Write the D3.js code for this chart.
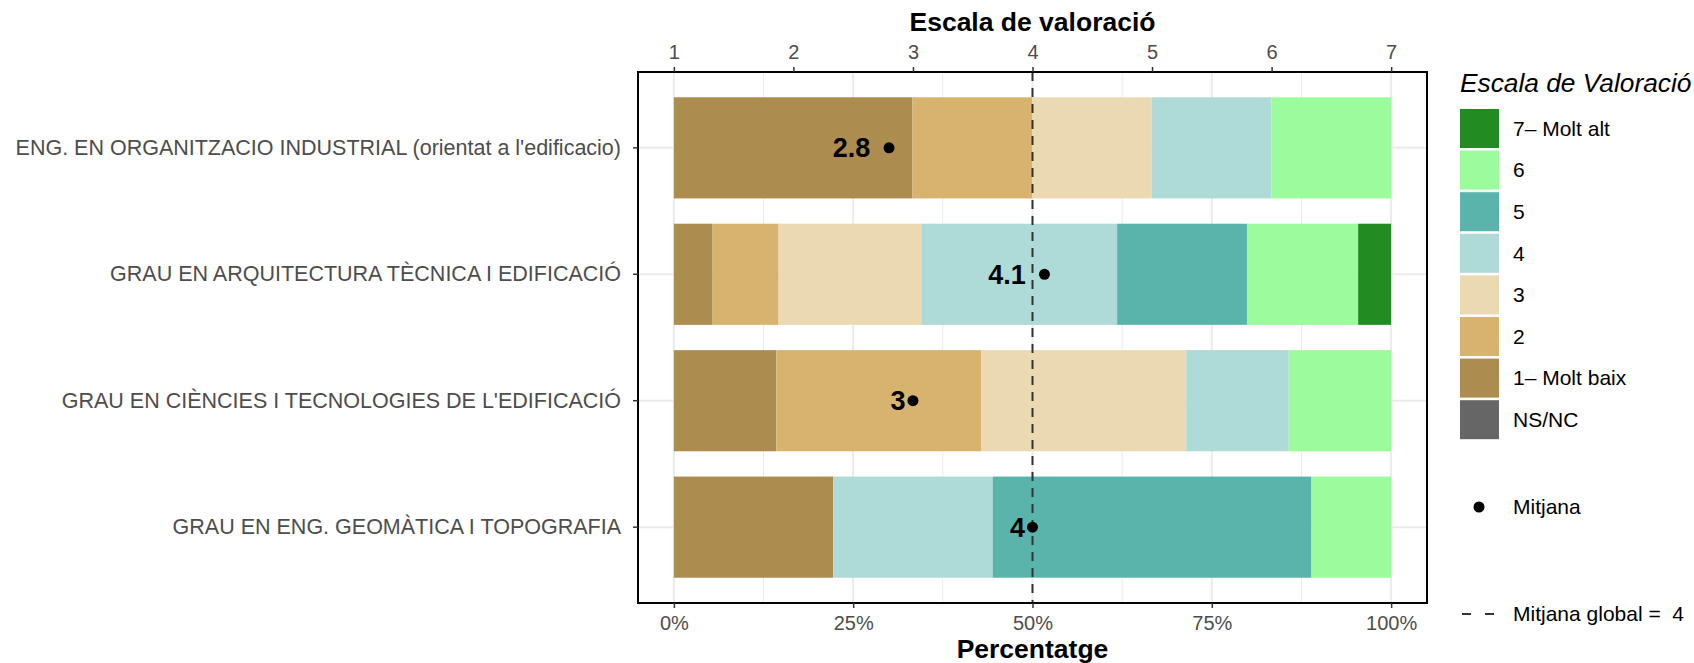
<!DOCTYPE html>
<html>
<head>
<meta charset="utf-8">
<script src="https://cdn.jsdelivr.net/npm/d3@7"></script>
<style>
  html, body { margin: 0; padding: 0; background: #fff; }
  svg { display: block; font-family: "Liberation Sans", Arial, sans-serif; }
</style>
</head>
<body>
<svg id="chart" width="1694" height="663"></svg>
<script>
// ---------------- DATA ----------------
const categories = [
  "ENG. EN ORGANITZACIO INDUSTRIAL (orientat a l'edificacio)",
  "GRAU EN ARQUITECTURA TÈCNICA I EDIFICACIÓ",
  "GRAU EN CIÈNCIES I TECNOLOGIES DE L'EDIFICACIÓ",
  "GRAU EN ENG. GEOMÀTICA I TOPOGRAFIA"
];
const levels = ["NS/NC", "1", "2", "3", "4", "5", "6", "7"];
const levelLabels = ["NS/NC", "1– Molt baix", "2", "3", "4", "5", "6", "7– Molt alt"];
const levelColors = ["#666666", "#AD8C4F", "#D8B36E", "#EBD9B2", "#AEDAD7", "#5BB4AC", "#9AFC9A", "#228B22"];
// percentages per category (same order as categories)
const pctNSNC = [0, 0, 0, 0];
const pct1 = [33.3, 5.4, 14.3, 22.2];
const pct2 = [16.7, 9.2, 28.6, 0];
const pct3 = [16.7, 19.9, 28.6, 0];
const pct4 = [16.7, 27.3, 14.3, 22.2];
const pct5 = [0, 18.1, 0, 44.4];
const pct6 = [16.7, 15.5, 14.3, 11.1];
const pct7 = [0, 4.6, 0, 0];
const means = [2.8, 4.1, 3, 4];
const globalMean = 4;
const pctTicks = [0, 25, 50, 75, 100];
const pctTickLabels = ["0%", "25%", "50%", "75%", "100%"];
const scaleTicks = [1, 2, 3, 4, 5, 6, 7];

// ---------------- LAYOUT ----------------
const svg = d3.select("#chart");
const P = { left: 638, right: 1427, top: 72, bottom: 603 };
const x = d3.scaleLinear().domain([-5, 105]).range([P.left, P.right]);
const xs = d3.scaleLinear().domain([1, 7]).range([x(0), x(100)]);
const y = d3.scaleBand().domain(categories).range([P.top, P.bottom]).paddingInner(0.2).paddingOuter(0.2);
const grey = "#4D4D4D";

const seriesByLevel = { "NS/NC": pctNSNC, "1": pct1, "2": pct2, "3": pct3, "4": pct4, "5": pct5, "6": pct6, "7": pct7 };
const stackOrder = ["1", "2", "3", "4", "5", "6", "7", "NS/NC"];
const rows = categories.map((c, i) => {
  const r = { cat: c };
  let tot = 0;
  stackOrder.forEach(k => tot += seriesByLevel[k][i]);
  stackOrder.forEach(k => r[k] = seriesByLevel[k][i] / tot * 100);
  return r;
});
const stacked = d3.stack().keys(stackOrder)(rows);
const color = d3.scaleOrdinal().domain(levels).range(levelColors);

svg.append("rect").attr("x", P.left).attr("y", P.top)
  .attr("width", P.right - P.left).attr("height", P.bottom - P.top).attr("fill", "#fff");

const minor = [12.5, 37.5, 62.5, 87.5];
svg.append("g").selectAll("line").data(minor).join("line")
  .attr("x1", d => x(d)).attr("x2", d => x(d)).attr("y1", P.top).attr("y2", P.bottom)
  .attr("stroke", "#EBEBEB").attr("stroke-width", 1);
svg.append("g").selectAll("line").data(pctTicks).join("line")
  .attr("x1", d => x(d)).attr("x2", d => x(d)).attr("y1", P.top).attr("y2", P.bottom)
  .attr("stroke", "#EBEBEB").attr("stroke-width", 2);
svg.append("g").selectAll("line").data(categories).join("line")
  .attr("x1", P.left).attr("x2", P.right)
  .attr("y1", d => y(d) + y.bandwidth() / 2).attr("y2", d => y(d) + y.bandwidth() / 2)
  .attr("stroke", "#EBEBEB").attr("stroke-width", 2);

svg.append("g").selectAll("g").data(stacked).join("g")
  .attr("fill", d => color(d.key))
  .selectAll("rect").data(d => d).join("rect")
  .attr("x", d => x(d[0])).attr("width", d => Math.max(0, x(d[1]) - x(d[0])))
  .attr("y", d => y(d.data.cat)).attr("height", y.bandwidth());

svg.append("line")
  .attr("x1", xs(globalMean)).attr("x2", xs(globalMean))
  .attr("y1", P.top).attr("y2", P.bottom)
  .attr("stroke", "#333").attr("stroke-width", 2).attr("stroke-dasharray", "9,7");

const mg = svg.append("g");
mg.selectAll("circle").data(means).join("circle")
  .attr("cx", d => xs(d)).attr("cy", (d, i) => y(categories[i]) + y.bandwidth() / 2)
  .attr("r", 5.5).attr("fill", "#000");
mg.selectAll("text").data(means).join("text")
  .attr("y", (d, i) => y(categories[i]) + y.bandwidth() / 2)
  .attr("dy", "0.35em")
  .attr("font-size", 27).attr("font-weight", "bold").attr("fill", "#000")
  .attr("text-anchor", "end")
  .text(d => d3.format("")(Math.round(d * 10) / 10))
  .each(function (d) {
    const w = this.getComputedTextLength();
    d3.select(this).attr("x", xs(d) - 0.5 * w);
  });

svg.append("rect").attr("x", P.left).attr("y", P.top)
  .attr("width", P.right - P.left).attr("height", P.bottom - P.top)
  .attr("fill", "none").attr("stroke", "#000").attr("stroke-width", 2);

const axB = svg.append("g").attr("transform", `translate(0,${P.bottom})`)
  .call(d3.axisBottom(x).tickValues(pctTicks).tickFormat((d, i) => pctTickLabels[i]).tickSize(5).tickPadding(8));
const axT = svg.append("g").attr("transform", `translate(0,${P.top})`)
  .call(d3.axisTop(xs).tickValues(scaleTicks).tickFormat(d3.format("d")).tickSize(5).tickPadding(8));
const axL = svg.append("g").attr("transform", `translate(${P.left},0)`)
  .call(d3.axisLeft(y).tickSize(5).tickPadding(12));
[axB, axT, axL].forEach(a => {
  a.select(".domain").remove();
  a.selectAll(".tick line").attr("stroke", "#333").attr("stroke-width", 1.5);
  a.selectAll(".tick text").attr("fill", grey).attr("font-size", 20)
    .attr("font-family", "'Liberation Sans', Arial, sans-serif");
});
axL.selectAll(".tick text").attr("font-size", 21.5);

const cx = (P.left + P.right) / 2;
svg.append("text").attr("x", cx).attr("y", 31).attr("text-anchor", "middle")
  .attr("font-size", 26.5).attr("font-weight", "bold").text("Escala de valoració");
svg.append("text").attr("x", cx).attr("y", 658).attr("text-anchor", "middle")
  .attr("font-size", 26.5).attr("font-weight", "bold").text("Percentatge");

const L = { x: 1460, y0: 109, step: 41.6, key: 39, tx: 1513 };
svg.append("text").attr("x", L.x).attr("y", 92).attr("font-size", 26.3)
  .attr("font-style", "italic").text("Escala de Valoració");
const legOrder = ["7", "6", "5", "4", "3", "2", "1", "NS/NC"];
const lg = svg.append("g").selectAll("g").data(legOrder).join("g")
  .attr("transform", (d, i) => `translate(${L.x},${L.y0 + i * L.step})`);
lg.append("rect").attr("width", L.key).attr("height", L.key).attr("fill", d => color(d));
lg.append("text").attr("x", L.tx - L.x).attr("y", L.key / 2).attr("dy", "0.35em")
  .attr("font-size", 21).attr("fill", "#000")
  .text(d => levelLabels[levels.indexOf(d)]);

svg.append("circle").attr("cx", 1479).attr("cy", 507).attr("r", 5.5).attr("fill", "#000");
svg.append("text").attr("x", L.tx).attr("y", 507).attr("dy", "0.35em").attr("font-size", 21).text("Mitjana");
svg.append("line").attr("x1", 1462).attr("x2", 1494).attr("y1", 614).attr("y2", 614)
  .attr("stroke", "#333").attr("stroke-width", 2).attr("stroke-dasharray", "9,14");
svg.append("text").attr("x", L.tx).attr("y", 614).attr("dy", "0.35em").attr("font-size", 21)
  .text("Mitjana global =  " + globalMean).style("white-space", "pre");
</script>
</body>
</html>
